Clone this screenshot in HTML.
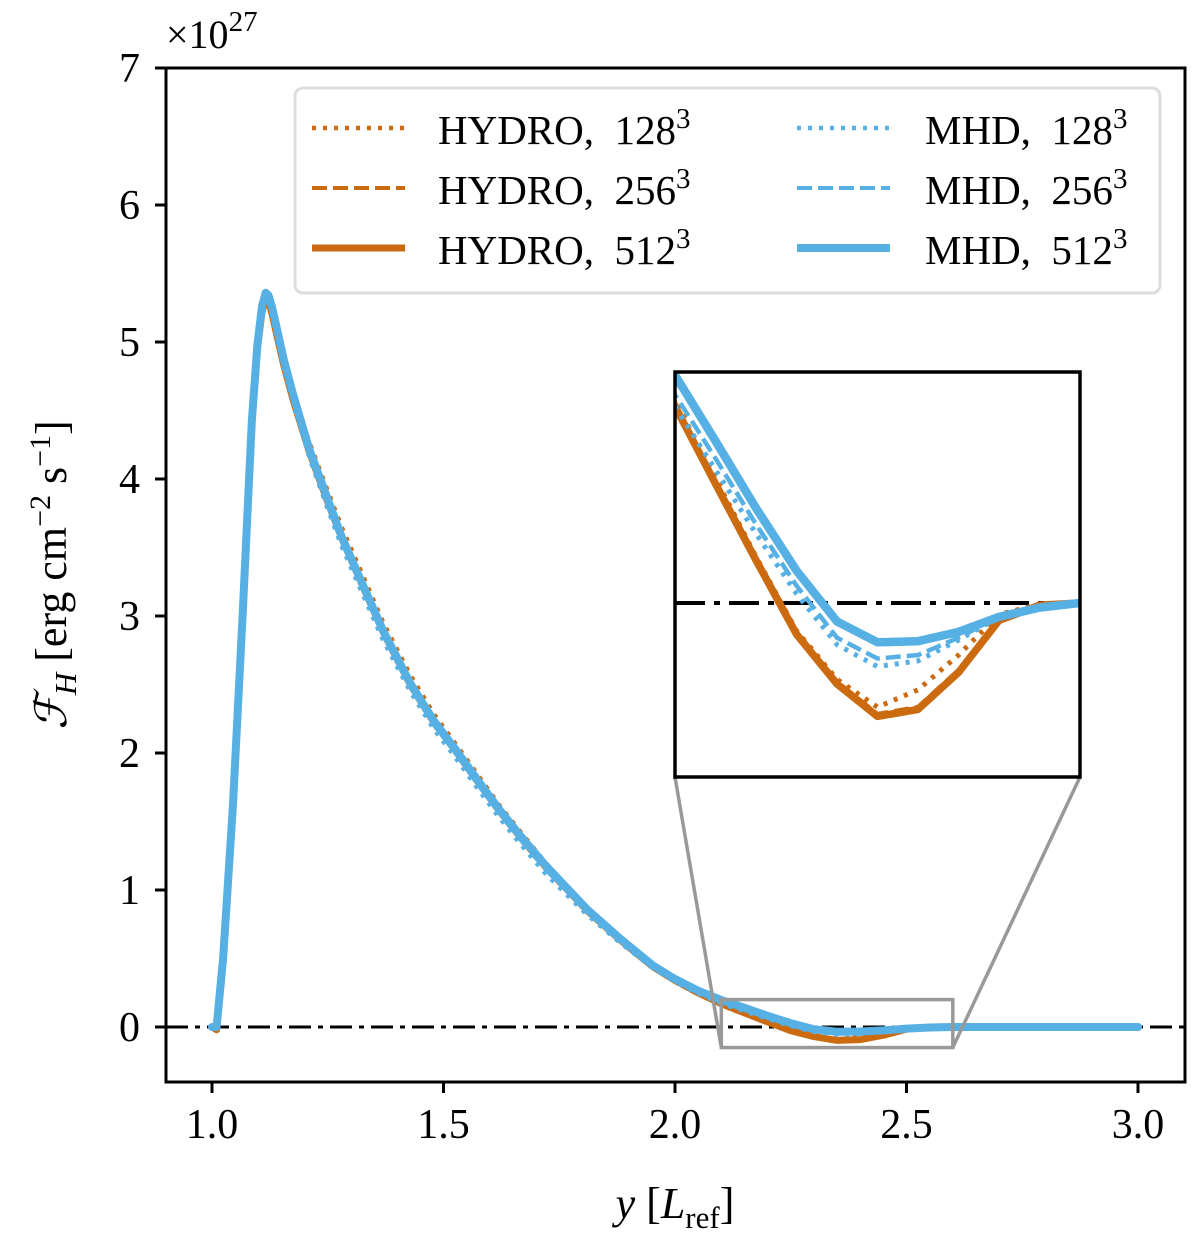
<!DOCTYPE html>
<html><head><meta charset="utf-8"><style>
html,body{margin:0;padding:0;background:#fff;}
svg text{font-family:"Liberation Serif","DejaVu Serif",serif;fill:#000;}
</style></head><body>
<svg id="chart" width="1200" height="1235" viewBox="0 0 1200 1235" xmlns="http://www.w3.org/2000/svg">
<defs>
<clipPath id="mainclip"><rect x="166" y="68" width="1019" height="1014"/></clipPath>
<clipPath id="insetclip"><rect x="675" y="372" width="405" height="405"/></clipPath>
</defs>
<rect width="1200" height="1235" fill="#fff"/>
<g id="main" clip-path="url(#mainclip)"></g>
<g id="axes"></g>
<g id="inset-g"></g>
</svg>
<script>
const xGrid=[1.0,1.01,1.024,1.045,1.067,1.086,1.098,1.108,1.116,1.122,1.13,1.14,1.155,1.175,1.21,1.248,1.28,1.32,1.37,1.428,1.48,1.521,1.572,1.62,1.665,1.72,1.81,1.88,1.952,2.0,2.05,2.1,2.15,2.2,2.25,2.3,2.35,2.4,2.45,2.5,2.55,2.6,2.7,2.8,3.0];
const hydro512=[0,-0.02,0.49,1.58,3.04,4.4,4.95,5.22,5.32,5.3,5.2,5.05,4.83,4.58,4.2,3.85,3.57,3.26,2.88,2.5,2.22,2.04,1.80,1.58,1.39,1.17,0.85,0.64,0.44,0.34,0.25,0.17,0.103,0.037,-0.027,-0.07,-0.098,-0.092,-0.06,-0.015,-0.002,0,0,0,0];
const hydro256=[0,-0.02,0.49,1.58,3.04,4.4,4.95,5.22,5.31,5.3,5.21,5.06,4.84,4.6,4.22,3.87,3.59,3.28,2.9,2.52,2.23,2.05,1.81,1.59,1.40,1.18,0.86,0.645,0.445,0.345,0.252,0.172,0.105,0.039,-0.025,-0.068,-0.096,-0.09,-0.058,-0.014,-0.002,0,0,0,0];
const hydro128=[0,-0.02,0.49,1.58,3.04,4.4,4.95,5.22,5.31,5.3,5.22,5.08,4.87,4.63,4.27,3.93,3.65,3.34,2.95,2.57,2.28,2.09,1.85,1.62,1.43,1.2,0.87,0.65,0.45,0.35,0.255,0.175,0.108,0.04,-0.024,-0.066,-0.09,-0.075,-0.045,-0.01,-0.001,0,0,0,0];
const mhd512=[0,0,0.5,1.6,3.06,4.42,4.98,5.26,5.36,5.34,5.25,5.1,4.87,4.62,4.22,3.87,3.58,3.27,2.89,2.51,2.23,2.05,1.81,1.59,1.40,1.18,0.86,0.65,0.45,0.35,0.265,0.197,0.14,0.082,0.028,-0.016,-0.034,-0.033,-0.025,-0.012,-0.004,0,0,0,0];
const mhd256=[0,0,0.5,1.6,3.06,4.42,4.98,5.26,5.35,5.33,5.23,5.08,4.85,4.6,4.19,3.84,3.55,3.24,2.86,2.48,2.2,2.02,1.78,1.56,1.37,1.15,0.84,0.63,0.44,0.34,0.255,0.18,0.125,0.068,0.015,-0.03,-0.048,-0.045,-0.03,-0.012,-0.003,0,0,0,0];
const mhd128=[0,0,0.5,1.6,3.06,4.42,4.98,5.25,5.34,5.32,5.21,5.06,4.82,4.57,4.16,3.8,3.51,3.2,2.82,2.45,2.17,1.99,1.75,1.53,1.34,1.12,0.82,0.62,0.43,0.33,0.245,0.17,0.115,0.06,0.008,-0.036,-0.055,-0.05,-0.032,-0.012,-0.003,0,0,0,0];
const xTicks=[1.0,1.5,2.0,2.5,3.0];
const xTickLabels=["1.0","1.5","2.0","2.5","3.0"];
const yTicks=[0,1,2,3,4,5,6,7];
const yTickLabels=["0","1","2","3","4","5","6","7"];

const NS="http://www.w3.org/2000/svg";
const ORANGE="#cc6a10", BLUE="#56b0e4";
const X=v=>212+(v-1)*463;
const Y=v=>1027-v*137;
const IX=v=>675+(v-2.1)*810;
const IY=v=>603-v*1157;
function mk(tag,attrs,parent){const e=document.createElementNS(NS,tag);for(const k in attrs)e.setAttribute(k,attrs[k]);parent.appendChild(e);return e;}
function pathD(xs,ys,fx,fy){return xs.map((x,i)=>(i?'L':'M')+fx(x).toFixed(1)+','+fy(ys[i]).toFixed(1)).join(' ');}
const styles=[
 {c:ORANGE,w:4.5,d:"4,7"},{c:ORANGE,w:4,d:"15,6"},{c:ORANGE,w:7,d:""},
 {c:BLUE,w:4.5,d:"4,7"},{c:BLUE,w:4,d:"15,6"},{c:BLUE,w:8,d:""}];
const data=[hydro128,hydro256,hydro512,mhd128,mhd256,mhd512];
const ids=["hydro-128-line","hydro-256-line","hydro-512-line","mhd-128-line","mhd-256-line","mhd-512-line"];
const main=document.getElementById('main');
let z=mk('line',{x1:166,x2:1185,y1:Y(0),y2:Y(0),stroke:'#000','stroke-width':3,'stroke-dasharray':'22,7,5,7'},main);


data.forEach((ys,i)=>{const s=styles[i];
 const p=mk('path',{d:pathD(xGrid,ys,X,Y),fill:'none',stroke:s.c,'stroke-width':s.w,'stroke-dasharray':s.d,'stroke-linejoin':'round','stroke-linecap':s.d?'butt':'round'},main);
 
 
});
const ax=document.getElementById('axes');
let zr=mk('rect',{x:X(2.1),y:Y(0.2),width:X(2.6)-X(2.1),height:Y(-0.15)-Y(0.2),fill:'none',stroke:'#999','stroke-width':3.5},ax);


let c1=mk('line',{x1:675,y1:777,x2:X(2.1),y2:Y(-0.15),stroke:'#999','stroke-width':3.5},ax);


let c2=mk('line',{x1:1080,y1:777,x2:X(2.6),y2:Y(-0.15),stroke:'#999','stroke-width':3.5},ax);


let fr=mk('rect',{x:166,y:68,width:1019,height:1014,fill:'none',stroke:'#000','stroke-width':3},ax);


xTicks.forEach((v,i)=>{
 mk('line',{x1:X(v),x2:X(v),y1:1082,y2:1093,stroke:'#000','stroke-width':3},ax);
 const t=mk('text',{x:X(v),y:1138,'text-anchor':'middle','font-size':42},ax);t.textContent=xTickLabels[i];
 
 
});
yTicks.forEach((v,i)=>{
 mk('line',{x1:155,x2:166,y1:Y(v),y2:Y(v),stroke:'#000','stroke-width':3},ax);
 const t=mk('text',{x:140,y:Y(v)+14,'text-anchor':'end','font-size':42},ax);t.textContent=yTickLabels[i];
 
 
});
const ig=document.getElementById('inset-g');
mk('rect',{x:675,y:372,width:405,height:405,fill:'#fff'},ig);
const ic=mk('g',{'clip-path':'url(#insetclip)'},ig);
mk('line',{x1:675,x2:1080,y1:IY(0),y2:IY(0),stroke:'#000','stroke-width':4,'stroke-dasharray':'30,9,6,9'},ic);
data.forEach((ys,i)=>{const s=styles[i];
 const p=mk('path',{d:pathD(xGrid,ys,IX,IY),fill:'none',stroke:s.c,'stroke-width':s.w+0.5,'stroke-dasharray':s.d,'stroke-linejoin':'round'},ic);
 
 
});
let ifr=mk('rect',{x:675,y:372,width:405,height:405,fill:'none',stroke:'#000','stroke-width':3.5},ig);


</script>
<svg style="position:absolute;left:0;top:0" width="1200" height="1235">
<text x="166" y="48" font-size="40">×10<tspan dy="-17" font-size="29">27</tspan></text>
<text x="675" y="1218" text-anchor="middle" font-size="44"><tspan font-style="italic">y</tspan> [<tspan font-style="italic">L</tspan><tspan font-size="31" dy="10">ref</tspan><tspan dy="-10">]</tspan></text>
<text transform="translate(66,575) rotate(-90)" text-anchor="middle" font-size="44"><tspan font-style="italic">ℱ</tspan><tspan font-style="italic" font-size="31" dy="10">H</tspan><tspan dy="-10" xml:space="preserve"> [erg cm</tspan><tspan font-size="30" dy="-16">−2</tspan><tspan dy="16" xml:space="preserve"> s</tspan><tspan font-size="30" dy="-16">−1</tspan><tspan dy="16">]</tspan></text>
<g>
<rect x="295" y="88" width="865" height="205" rx="8" fill="#fff" fill-opacity="0.85" stroke="#ddd" stroke-width="3"/>
<line x1="312" x2="405" y1="128" y2="128" stroke="#cc6a10" stroke-width="4.5" stroke-dasharray="4,7"/>
<line x1="312" x2="405" y1="188" y2="188" stroke="#cc6a10" stroke-width="4" stroke-dasharray="15,6"/>
<line x1="312" x2="405" y1="248" y2="248" stroke="#cc6a10" stroke-width="7"/>
<line x1="797" x2="890" y1="128" y2="128" stroke="#56b0e4" stroke-width="4.5" stroke-dasharray="4,7"/>
<line x1="797" x2="890" y1="188" y2="188" stroke="#56b0e4" stroke-width="4" stroke-dasharray="15,6"/>
<line x1="797" x2="890" y1="248" y2="248" stroke="#56b0e4" stroke-width="8"/>
<text x="438" y="144" font-size="41">HYDRO,&#160;&#160;128<tspan dy="-16" font-size="29">3</tspan></text>
<text x="438" y="204" font-size="41">HYDRO,&#160;&#160;256<tspan dy="-16" font-size="29">3</tspan></text>
<text x="438" y="264" font-size="41">HYDRO,&#160;&#160;512<tspan dy="-16" font-size="29">3</tspan></text>
<text x="925" y="144" font-size="41">MHD,&#160;&#160;128<tspan dy="-16" font-size="29">3</tspan></text>
<text x="925" y="204" font-size="41">MHD,&#160;&#160;256<tspan dy="-16" font-size="29">3</tspan></text>
<text x="925" y="264" font-size="41">MHD,&#160;&#160;512<tspan dy="-16" font-size="29">3</tspan></text>
</g>
</svg>
</body></html>
